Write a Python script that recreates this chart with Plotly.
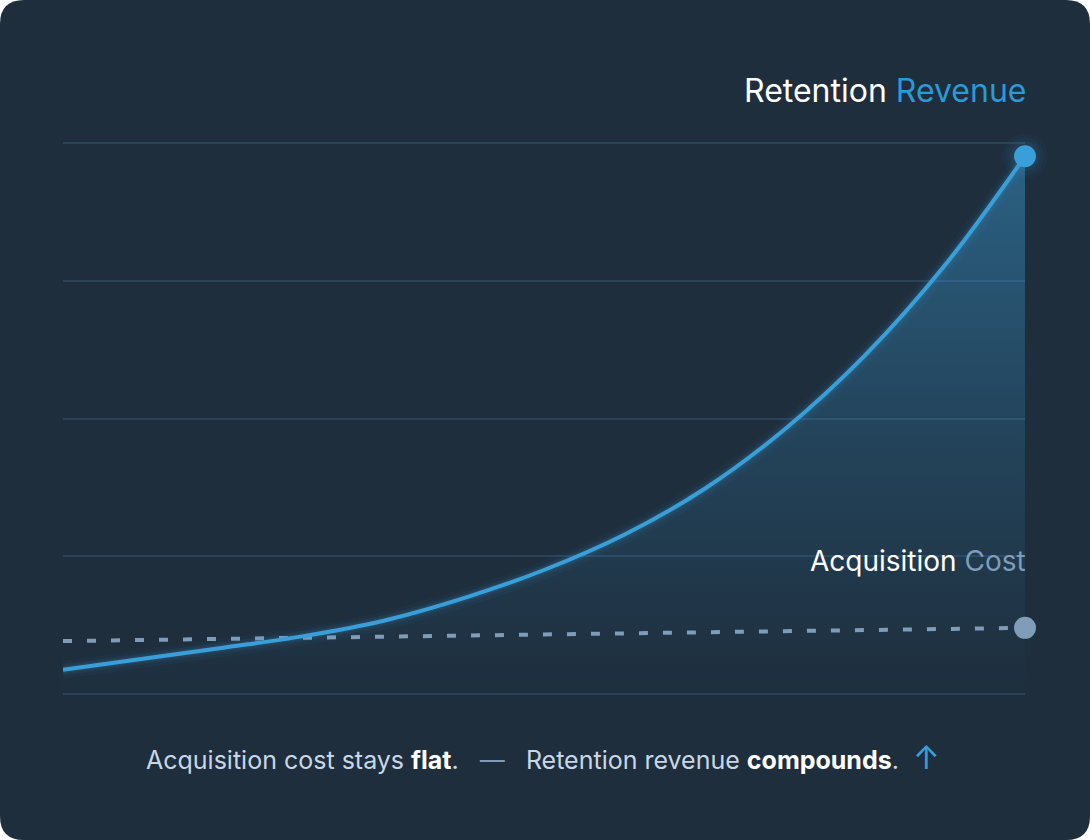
import plotly.graph_objects as go

# 月份索引與數值（0~100 的相對刻度）
months = [0, 1, 2, 3, 4, 5, 6, 7, 8, 9, 10, 11, 12]
retention_revenue = [4.4, 6.4, 8.4, 10.5, 13.3, 17.4, 22.5, 28.9, 37.2, 48.0, 61.4, 77.8, 97.6]
acquisition_cost = [9.6, 9.8, 10.0, 10.2, 10.4, 10.6, 10.8, 11.0, 11.2, 11.4, 11.6, 11.8, 12.0]
grid_ticks = [0, 25, 50, 75, 100]

W, H = 1090, 840
L, R, T, B = 63, 65, 132, 135
pw, ph = W - L - R, H - T - B

BG = "#1e2e3d"
BLUE = "#3a9fd8"
GREY = "#7f9cb8"
FONT = "Inter"
SP = "\u00a0"


def px_x(v):
    return (v - L) / pw


def px_y(v):
    return (H - B - v) / ph


# 圓角卡片背景
r = 24
x0, x1, y0, y1 = px_x(0), px_x(W), px_y(H), px_y(0)
rx, ry = r / pw, r / ph
card = (f"M {x0 + rx},{y0} L {x1 - rx},{y0} Q {x1},{y0} {x1},{y0 + ry} "
        f"L {x1},{y1 - ry} Q {x1},{y1} {x1 - rx},{y1} L {x0 + rx},{y1} "
        f"Q {x0},{y1} {x0},{y1 - ry} L {x0},{y0 + ry} Q {x0},{y0} {x0 + rx},{y0} Z")

fig = go.Figure()

# 面積漸層
fig.add_trace(go.Scatter(
    x=months, y=retention_revenue, mode="lines", line=dict(width=0, shape="spline"),
    fill="tozeroy",
    fillgradient=dict(type="vertical", start=0, stop=retention_revenue[-1],
                      colorscale=[[0, "rgba(58,159,216,0.0)"], [0.5, "rgba(58,159,216,0.2)"],
                                  [1, "rgba(58,159,216,0.45)"]]),
    hoverinfo="skip", showlegend=False))

# 虛線：獲客成本
fig.add_trace(go.Scatter(
    x=months, y=acquisition_cost, mode="lines",
    line=dict(color=GREY, width=4, dash="9px,15px"),
    showlegend=False))

# 光暈
for w, op in [(18, 0.04), (11, 0.07), (7, 0.1)]:
    fig.add_trace(go.Scatter(
        x=months, y=retention_revenue, mode="lines",
        line=dict(color=BLUE, width=w, shape="spline"), opacity=op,
        hoverinfo="skip", showlegend=False))

# 主線：留存收入
fig.add_trace(go.Scatter(
    x=months, y=retention_revenue, mode="lines",
    line=dict(color=BLUE, width=4, shape="spline"),
    showlegend=False))

# 端點光暈 + 端點
for s, op in [(46, 0.03), (38, 0.05), (30, 0.08)]:
    fig.add_trace(go.Scatter(
        x=[months[-1]], y=[retention_revenue[-1]], mode="markers",
        marker=dict(size=s, color=f"rgba(58,159,216,{op})"), cliponaxis=False,
        hoverinfo="skip", showlegend=False))
fig.add_trace(go.Scatter(
    x=[months[-1], months[-1]], y=[retention_revenue[-1], acquisition_cost[-1]], mode="markers",
    marker=dict(size=22, color=[BLUE, GREY]), cliponaxis=False,
    showlegend=False))

fig.update_layout(
    width=W, height=H,
    margin=dict(l=L, r=R, t=T, b=B),
    paper_bgcolor="white",
    plot_bgcolor="rgba(0,0,0,0)",
    font=dict(family=FONT, color="white"),
    xaxis=dict(range=[0, 12], visible=False, fixedrange=True),
    yaxis=dict(range=[-2, 102], tickvals=grid_ticks, showticklabels=False,
               showgrid=True, gridcolor="#29425a", gridwidth=2,
               zeroline=False, showline=False, fixedrange=True),
    shapes=[dict(type="path", path=card, xref="paper", yref="paper",
                 fillcolor=BG, line=dict(width=0), layer="below")],
    annotations=[
        dict(x=1, y=px_y(90), xref="paper", yref="paper", xanchor="right", yanchor="middle",
             xshift=3, showarrow=False, font=dict(size=32, color="white"),
             text="Retention <span style='color:#2b9ad6'>Revenue</span>"),
        dict(x=1, y=px_y(561), xref="paper", yref="paper", xanchor="right", yanchor="middle",
             xshift=3, showarrow=False, font=dict(size=28, color="white"),
             text=f"Acquisition <span style='color:{GREY}'>Cost</span>"),
        dict(x=px_x(543), y=px_y(757), xref="paper", yref="paper", xanchor="center",
             yanchor="middle", showarrow=False, font=dict(size=25, color="#c9d7e5"),
             text=(f"Acquisition cost stays <b style='color:white'>flat</b>.{SP * 3}"
                   f"<span style='color:{GREY}'>—</span>{SP * 3}Retention revenue "
                   f"<b style='color:white'>compounds</b>.{SP * 2}"
                   f"<span style='color:{BLUE};font-size:32px'>↑</span>")),
    ],
)

fig.write_html("out.html", config={"displayModeBar": False},
               post_script="document.body.style.margin='0';")
